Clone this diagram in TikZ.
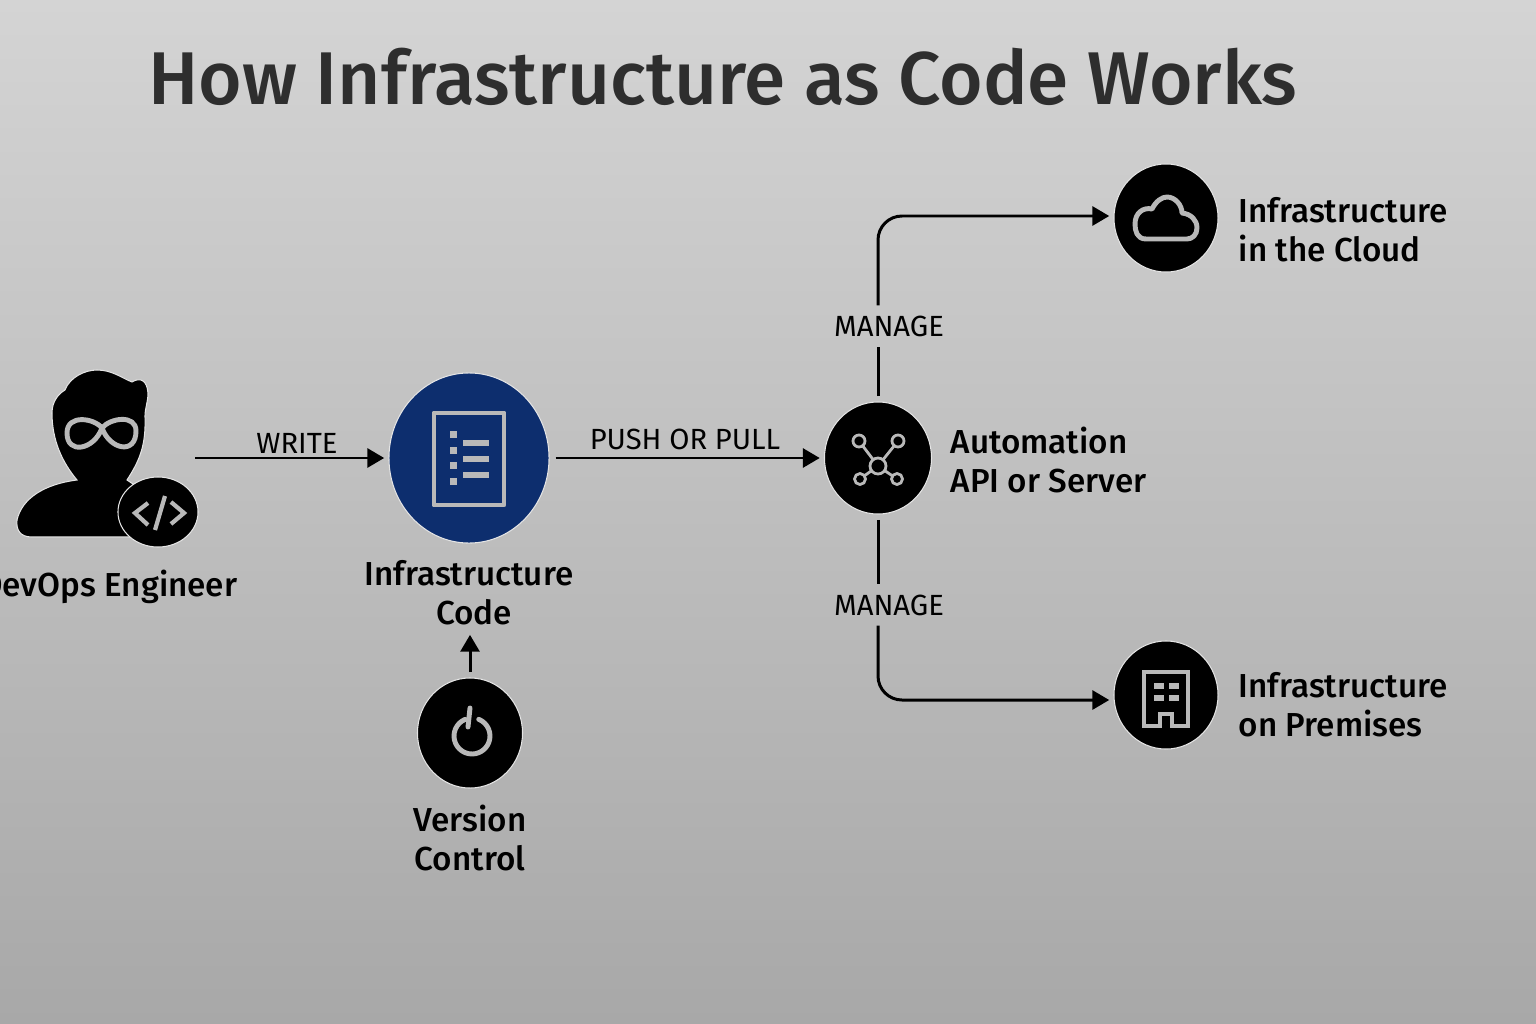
\documentclass[tikz,border=0pt]{standalone}
\usepackage{fontspec}
\setmainfont{Fira Sans}[UprightFont=* Medium]
\newfontfamily\capsfont{Fira Sans}
\usetikzlibrary{arrows.meta,shapes.geometric}
\definecolor{bgtop}{HTML}{D4D4D4}
\definecolor{bgbot}{HTML}{A8A8A8}
\definecolor{navy}{HTML}{0D2E6E}
\definecolor{iconline}{HTML}{B9B9B9}
\tikzset{
  flow/.style={-{Triangle[length=4.8pt,width=5.4pt]}, line width=0.85pt, draw=black},
  disc/.style={shape=ellipse, fill=black, draw=white!90!black, line width=0.3pt, inner sep=0pt, minimum width=1.05cm, minimum height=1.10cm},
  icon/.style={draw=iconline, line width=1.4pt, line cap=round, line join=round},
  toplabel/.style={font=\capsfont\fontsize{8.3}{10}\selectfont, text=black, inner sep=0pt},
  sidelabel/.style={font=\fontsize{9.45}{11}\selectfont, text=black, inner sep=0pt, align=left, anchor=west},
  underlabel/.style={font=\fontsize{9.45}{11}\selectfont, text=black, inner sep=0pt, align=center}
}
\begin{document}
\begin{tikzpicture}[x=0.01cm, y=-0.01cm]
\useasboundingbox (0,0) rectangle (1536,1024);
\shade[top color=bgtop, bottom color=bgbot] (0,0) rectangle (1536,1024);
\node[font=\fontsize{21.25}{25}\selectfont, text=black!82, inner sep=0pt] (title) at (723,77) {How Infrastructure as Code Works};

\filldraw[fill=black, draw=white!90!black, line width=0.3pt] (77,480) .. controls (62,462) and (52,440) .. (52,413) .. controls (52,402) and (58,394) .. (65,390) .. controls (70,377) and (85,370) .. (97,370) .. controls (112,370) and (122,378) .. (132,382) .. controls (140,377) and (147,380) .. (148,393) .. controls (148,402) and (145,408) .. (145,416) .. controls (146,445) and (140,460) .. (127,480) -- (133,484) -- (133,537) -- (32,537) .. controls (20,537) and (16,530) .. (17,520) .. controls (22,498) and (45,484) .. (77,480) -- cycle;
\draw[icon] (102,428) .. controls (94,418) and (67,414) .. (67,433) .. controls (67,455) and (94,450) .. (102,428) .. controls (110,418) and (136,414) .. (136,431) .. controls (136,455) and (110,450) .. (102,428) -- cycle;
\node[disc, minimum width=0.80cm, minimum height=0.70cm] (badge) at (158,512) {};
\draw[icon, line width=1.2pt, line cap=butt, line join=miter] (148,503) -- (135,513) -- (148,525);
\draw[icon, line width=1.2pt, line cap=butt, line join=miter] (171,502) -- (184,513) -- (171,524);
\draw[icon, line width=1.2pt, line cap=butt] (165,496) -- (155,530);
\coordinate (devops) at (195,458);
\node[underlabel, anchor=east] (devopslbl) at (238,587) {DevOps Engineer};

\node[disc, fill=navy, minimum width=1.60cm, minimum height=1.70cm] (code) at (469,458) {};
\draw[icon, line cap=butt] (434,413) rectangle (504,505);
\foreach \y in {434,450,465,481}
  \fill[iconline] (450,\y-3.5) rectangle ++(7,7);
\foreach \y in {443,459,475}
  \fill[iconline] (463,\y-3) rectangle ++(26,6);
\node[underlabel] (codelbl) at (469,593) {Infrastructure\\ \hspace*{0.1cm}Code};

\node[disc] (vers) at (470,733) {};
\draw[icon] ([shift={(-68:18)}]472,736) arc[start angle=-68, end angle=248, radius=18];
\draw[icon] (470,708) -- (468,727);
\node[underlabel] (verslbl) at (470,838) {Version\\ Control};

\node[disc, minimum width=1.07cm, minimum height=1.12cm] (auto) at (878,458) {};
\draw[icon, line width=0.8pt] (859,441) -- (878,466) -- (898,441);
\draw[icon, line width=0.8pt] (860,479) -- (878,466) -- (897,479);
\foreach \x/\y/\r in {878/466/8,859/441/6,898/441/6,860/479/5.5,897/479/5.5}
  \filldraw[icon, line width=0.8pt, fill=black] (\x,\y) circle[radius=\r];
\node[sidelabel] (autolbl) at (950,460) {Automation\\ API or Server};

\node[disc, minimum width=1.04cm, minimum height=1.08cm] (cloud) at (1166,218) {};
\draw[icon] (1146,239) .. controls (1137,239) and (1135,231) .. (1135,224) .. controls (1135,213) and (1143,207) .. (1152,209) .. controls (1156,201) and (1162,197) .. (1167,197) .. controls (1175,197) and (1182,205) .. (1182,213) .. controls (1191,214) and (1197,220) .. (1197,228) .. controls (1197,235) and (1192,239) .. (1187,239) -- cycle;
\node[sidelabel] (cloudlbl) at (1238,230) {Infrastructure\\ in the Cloud};

\node[disc, minimum width=1.04cm, minimum height=1.08cm] (prem) at (1166,695) {};
\draw[icon, line cap=butt, line join=miter] (1144,726) -- (1144,672) -- (1188,672) -- (1188,726) -- (1172,726) -- (1172,714) -- (1160,714) -- (1160,726) -- cycle;
\foreach \x in {1154,1169}
  \foreach \y in {683,695}
    \fill[iconline] (\x,\y) rectangle ++(10,6);
\node[sidelabel] (premlbl) at (1238,705) {Infrastructure\\ on Premises};

\node[toplabel] (write) at (297,443) {WRITE};
\node[toplabel] (pushpull) at (685,439) {PUSH OR PULL};
\node[toplabel, minimum height=0.40cm] (mgup) at (889,326) {MANAGE};
\node[toplabel, minimum height=0.40cm] (mgdown) at (889,605) {MANAGE};

\draw[flow, shorten >=1.2pt] (devops) -- (code);
\draw[flow, shorten <=1.7pt, shorten >=1.2pt] (code) -- (auto);
\draw[flow, shorten <=1.5pt] (vers.north) -- ([yshift=-0.09cm]vers.north |- codelbl.south);
\draw[line width=0.85pt, shorten <=1.5pt] (auto.north) -- (auto.north |- mgup.south);
\draw[flow, rounded corners=0.24cm, shorten >=1.2pt] (auto.north |- mgup.north) |- ([yshift=0.02cm]cloud.west);
\draw[line width=0.85pt, shorten <=1.5pt] (auto.south) -- (auto.south |- mgdown.north);
\draw[flow, rounded corners=0.24cm, shorten >=1.2pt] (auto.south |- mgdown.south) |- ([yshift=-0.05cm]prem.west);
\end{tikzpicture}
\end{document}
